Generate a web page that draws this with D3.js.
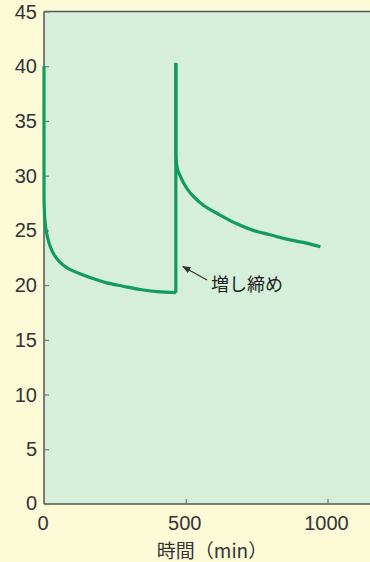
<!DOCTYPE html>
<html>
<head>
<meta charset="utf-8">
<script src="https://cdn.jsdelivr.net/npm/d3@7"></script>
<style>
  html, body { margin: 0; padding: 0; background: #fdfad8; }
  svg { display: block; }
</style>
</head>
<body>
<svg id="chart" width="370" height="562"></svg>
<script>
// ---- data ----
const timeMin = [0, 0, 1, 3, 7, 13, 21, 35, 56, 80, 102, 162, 222, 279, 339, 399, 465,
                 465, 465, 467, 472, 480, 491, 505, 527, 562, 621, 680, 738, 797, 856, 915, 975];
const force   = [40, 28, 27.0, 26.0, 25.1, 24.3, 23.6, 22.8, 22.1, 21.6, 21.3, 20.7, 20.2, 19.9, 19.6, 19.4, 19.3,
                 40.3, 32.0, 31.2, 30.5, 30.0, 29.4, 28.8, 28.1, 27.3, 26.4, 25.6, 25.0, 24.6, 24.2, 23.9, 23.5];
const yTicks = [0, 5, 10, 15, 20, 25, 30, 35, 40, 45];
const xTicks = [0, 500, 1000];
const xTitle = "時間（min）";
const annoText = "増し締め";
const annoPoint = [465, 21.7];

// ---- layout ----
const W = 370, H = 562;
const mLeft = 44, mTop = 11.5, mBottom = 504, mRight = 370;
const svg = d3.select("#chart");

const x = d3.scaleLinear().domain([0, 1000]).range([mLeft, 327.5]);
const y = d3.scaleLinear().domain([0, 45]).range([mBottom, mTop]);

svg.append("rect").attr("width", W).attr("height", H).attr("fill", "#fdfad8");
svg.append("rect")
  .attr("x", mLeft).attr("y", mTop)
  .attr("width", mRight - mLeft).attr("height", mBottom - mTop)
  .attr("fill", "#d6efdb");

const axisColor = "#555";
svg.append("line").attr("x1", mLeft).attr("x2", mRight).attr("y1", mTop).attr("y2", mTop)
  .attr("stroke", axisColor).attr("stroke-width", 1.5);
svg.append("line").attr("x1", mLeft).attr("x2", mRight).attr("y1", mBottom).attr("y2", mBottom)
  .attr("stroke", axisColor).attr("stroke-width", 1.5);
svg.append("line").attr("x1", mLeft).attr("x2", mLeft).attr("y1", mTop).attr("y2", mBottom)
  .attr("stroke", axisColor).attr("stroke-width", 1.5);

const font = "'Liberation Sans', Arial, Helvetica, sans-serif";

// y axis
const yAxis = d3.axisRight(y).tickValues(yTicks).tickSize(5).tickFormat("");
const yg = svg.append("g").attr("transform", `translate(${mLeft},0)`).call(yAxis);
yg.select(".domain").remove();
yg.selectAll(".tick line").attr("stroke", "#777").attr("stroke-width", 1.2);
svg.append("g").selectAll("text").data(yTicks).join("text")
  .attr("x", 37).attr("y", d => y(d) - (d === 0 ? 1 : 0))
  .attr("text-anchor", "end").attr("dominant-baseline", "central")
  .attr("font-family", font).attr("font-size", 20).attr("fill", "#333")
  .text(d => d);

// x axis
const xAxis = d3.axisTop(x).tickValues(xTicks.filter(d => d > 0)).tickSize(5).tickFormat("");
const xg = svg.append("g").attr("transform", `translate(0,${mBottom})`).call(xAxis);
xg.select(".domain").remove();
xg.selectAll(".tick line").attr("stroke", "#777").attr("stroke-width", 1.2);
svg.append("g").selectAll("text").data(xTicks).join("text")
  .attr("x", d => x(d) - 1).attr("y", 523)
  .attr("text-anchor", "middle").attr("dominant-baseline", "central")
  .attr("font-family", font).attr("font-size", 20).attr("fill", "#333")
  .text(d => d);

svg.append("text")
  .attr("x", 212).attr("y", 549)
  .attr("text-anchor", "middle").attr("dominant-baseline", "central")
  .attr("font-family", "'Noto Sans CJK JP', sans-serif").attr("font-size", 19).attr("fill", "#333")
  .text(xTitle);

// ---- line: split into runs (smooth) and vertical jumps (straight) ----
const pts = timeMin.map((t, i) => [t, force[i]]);
const smooth = d3.line().x(d => x(d[0])).y(d => y(d[1])).curve(d3.curveCatmullRom.alpha(0.5));
const straight = d3.line().x(d => x(d[0])).y(d => y(d[1]));
const lineG = svg.append("g")
  .attr("fill", "none").attr("stroke", "#139a5d").attr("stroke-width", 3.2)
  .attr("stroke-linejoin", "round").attr("stroke-linecap", "butt");

let run = [pts[0]];
for (let i = 1; i < pts.length; i++) {
  if (pts[i][0] === pts[i - 1][0]) {
    if (run.length > 1) lineG.append("path").attr("d", smooth(run));
    lineG.append("path").attr("d", straight([pts[i - 1], pts[i]]));
    run = [pts[i]];
  } else {
    run.push(pts[i]);
  }
}
if (run.length > 1) lineG.append("path").attr("d", smooth(run));

// ---- annotation ----
svg.append("defs").append("marker")
  .attr("id", "ah").attr("viewBox", "0 0 10 10").attr("refX", 9).attr("refY", 5)
  .attr("markerWidth", 7).attr("markerHeight", 7).attr("orient", "auto")
  .append("path").attr("d", "M0,1 L10,5 L0,9 Z").attr("fill", "#333");
svg.append("line")
  .attr("x1", 207).attr("y1", 280)
  .attr("x2", x(annoPoint[0]) + 7).attr("y2", y(annoPoint[1]))
  .attr("stroke", "#333").attr("stroke-width", 1.2).attr("marker-end", "url(#ah)");
svg.append("text")
  .attr("x", 211).attr("y", 283)
  .attr("dominant-baseline", "central")
  .attr("font-family", "'Noto Sans CJK JP', sans-serif").attr("font-size", 18).attr("fill", "#222")
  .text(annoText);
</script>
</body>
</html>
